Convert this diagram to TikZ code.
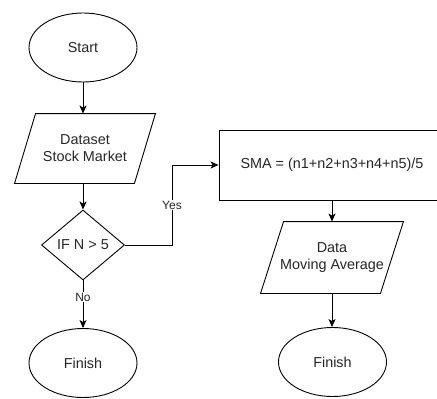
\documentclass[tikz,border=0pt]{standalone}
\usepackage{fontspec}
\setmainfont{Liberation Sans}
\usetikzlibrary{shapes.geometric,arrows.meta}

\tikzset{
  base/.style={font=\fontsize{14.4}{17}\selectfont, text=black!85, align=center, inner sep=0pt},
  terminal/.style={base, ellipse, draw, minimum width=108pt, minimum height=69pt},
  process/.style={base, rectangle, draw, minimum width=226pt, minimum height=70pt},
  decision/.style={base, diamond, draw, minimum width=83pt, minimum height=70pt},
  skewbox/.style={base, rectangle, draw=none},
  flow/.style={draw, line width=0.9pt, -{Stealth[length=8pt,width=7pt,inset=2pt]}},
  edgelabel/.style={font=\fontsize{12}{14}\selectfont, text=black!85, fill=white, inner sep=1pt}
}

% outline of a data (parallelogram) box around a named node
\newcommand\skewframe[2]{%
  \draw ([xshift=#2]#1.north west) -- (#1.north east)
    -- ([xshift=-#2]#1.south east) -- (#1.south west) -- cycle;}

\begin{document}
\begin{tikzpicture}[x=1pt, y=-1pt, line width=0.9pt]
  \useasboundingbox (0,0) rectangle (437,399);

  % left column
  \node[terminal] (start) at (83,47.5) {Start};
  \node[skewbox, minimum width=140pt, minimum height=69pt] (dataset) at (85,148.5) {Dataset\\Stock Market};
  \skewframe{dataset}{21pt}
  \node[decision] (cond) at (83,245) {IF N > 5};
  \node[terminal] (finA) at (83,363) {Finish};

  % right column
  \node[process] (sma) at (332,165) {SMA = (n1+n2+n3+n4+n5)/5};
  \node[skewbox, minimum width=142pt, minimum height=71pt] (avg) at (332,257.5) {Data\\Moving Average};
  \skewframe{avg}{23pt}
  \node[terminal] (finB) at (332.5,362) {Finish};

  \coordinate (bend1) at (172,245);
  \coordinate (bend2) at (172,165);

  % connectors
  \draw[flow] (start) -- (start |- dataset.north);
  \draw[flow] (cond |- dataset.south) -- (cond.north);
  \draw[flow] (cond.south) -- node[edgelabel, pos=0.35] {No} (finA.north);
  \draw[flow] (cond.east) -- (bend1) -- node[edgelabel, pos=0.5] {Yes} (bend2) -- (sma.west);
  \draw[flow] (sma.south -| avg) -- (avg.north);
  \draw[flow] (avg.south) -- (avg.south |- finB.north);
\end{tikzpicture}
\end{document}
